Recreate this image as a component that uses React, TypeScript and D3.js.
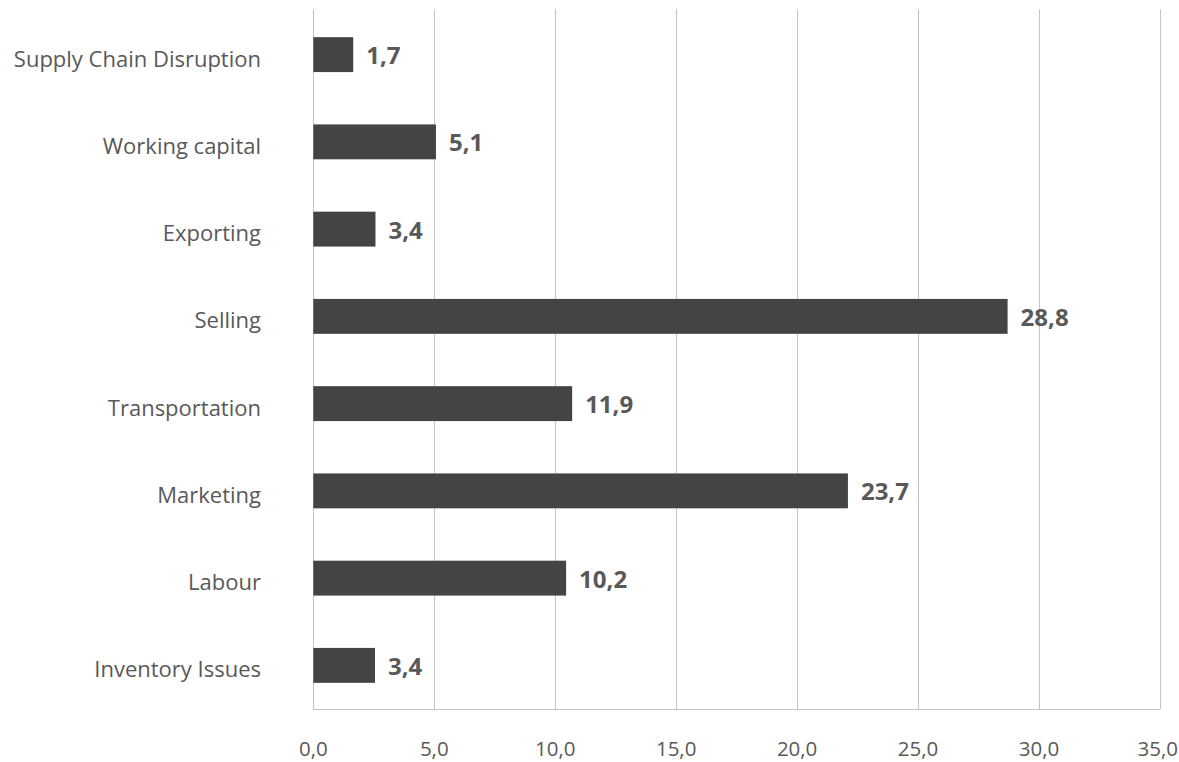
import React from "react";
import * as d3 from "d3";

const categories = [
  "Supply Chain Disruption",
  "Working capital",
  "Exporting",
  "Selling ",
  "Transportation",
  "Marketing",
  "Labour",
  "Inventory Issues",
];
// bar lengths as drawn in the reference
const values = [1.65, 5.07, 2.57, 28.7, 10.7, 22.1, 10.45, 2.55];
// data labels as printed in the reference
const valueLabels = ["1,7", "5,1", "3,4", "28,8", "11,9", "23,7", "10,2", "3,4"];
const ticks = [0, 5, 10, 15, 20, 25, 30, 35];

const W = 1179;
const H = 762;

export default function App() {
  const x = d3.scaleLinear().domain([0, 35]).range([313.3, 1160]);
  const y = d3
    .scaleBand<string>()
    .domain(categories)
    .range([11, 709])
    .paddingInner(0.6)
    .paddingOuter(0.3);
  const fmt = (v: number) => v.toFixed(1).replace(".", ",");

  return (
    <div style={{ position: "fixed", left: 0, top: 0 }}>
      <svg width={W} height={H} style={{ display: "block", background: "#fff" }}>
        {ticks.map((t) => (
          <line
            key={"g" + t}
            x1={Math.round(x(t)) + 0.5}
            x2={Math.round(x(t)) + 0.5}
            y1={9}
            y2={709}
            stroke="#c4c4c4"
            strokeWidth={1}
          />
        ))}
        <line x1={313} x2={1160} y1={709.5} y2={709.5} stroke="#c4c4c4" strokeWidth={1} />
        {ticks.map((t, i) => {
          const last = i === ticks.length - 1;
          return (
            <text
              key={"t" + t}
              x={last ? W - 1 : x(t)}
              y={755.5}
              textAnchor={last ? "end" : "middle"}
              fontFamily="'Open Sans', sans-serif"
              fontSize={20.5}
              fill="#595959"
            >
              {fmt(t)}
            </text>
          );
        })}
        {categories.map((c, i) => {
          const yc = (y(c) as number) + y.bandwidth() / 2;
          return (
            <g key={c}>
              <rect
                x={x(0)}
                y={y(c)}
                width={x(values[i]) - x(0)}
                height={y.bandwidth()}
                fill="#434444"
              />
              <text
                x={261}
                y={yc + 12}
                textAnchor="end"
                fontFamily="'Open Sans', sans-serif"
                fontSize={22}
                fill="#595959"
              >
                {c}
              </text>
              <text
                x={x(values[i]) + 13}
                y={yc + 9.5}
                textAnchor="start"
                fontFamily="'Open Sans', sans-serif"
                fontWeight="bold"
                fontSize={24}
                fill="#595959"
              >
                {valueLabels[i]}
              </text>
            </g>
          );
        })}
      </svg>
    </div>
  );
}
